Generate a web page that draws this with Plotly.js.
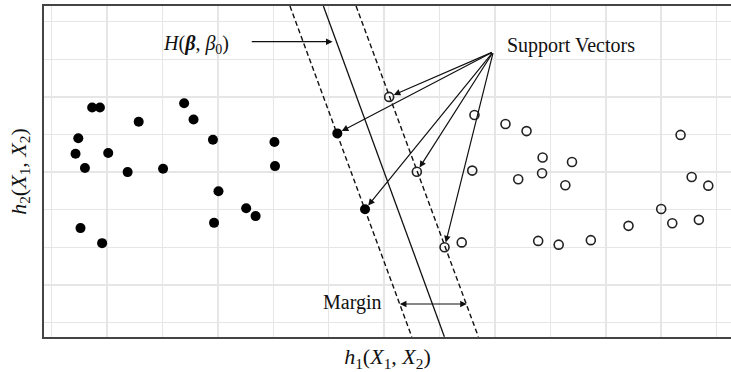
<!DOCTYPE html>
<html>
<head>
<meta charset="utf-8">
<script src="https://cdn.plot.ly/plotly-3.0.1.min.js"></script>
<style>html,body{margin:0;padding:0;background:#fff;}#chart{width:731px;height:372px;}</style>
</head>
<body>
<div id="chart"></div>
<script>
// Class A (filled dots)
const classAX = [0.73, 0.87, 1.57, 2.39, 2.56, 0.48, 0.43, 1.02, 0.60, 1.37, 2.01, 2.91, 4.02, 4.03, 3.01, 3.51, 3.68, 2.93, 0.52, 0.91];
const classAY = [5.72, 5.72, 5.34, 5.83, 5.40, 4.90, 4.49, 4.51, 4.11, 4.00, 4.09, 4.86, 4.80, 4.16, 3.49, 3.04, 2.83, 2.65, 2.51, 2.11];
// Class B (open circles)
const classBX = [7.63, 8.19, 8.57, 7.59, 7.40, 8.86, 9.39, 8.42, 8.85, 9.27, 11.35, 11.55, 11.85, 11.00, 11.20, 11.68, 10.41, 8.78, 9.15, 9.73];
const classBY = [5.52, 5.28, 5.09, 4.04, 2.13, 4.39, 4.27, 3.81, 3.97, 3.65, 4.99, 3.87, 3.64, 3.02, 2.64, 2.73, 2.57, 2.17, 2.07, 2.19];
// Support vectors
const svAX = [5.155, 5.655];
const svAY = [5.03, 3.01];
const svBX = [6.09, 6.59, 7.09];
const svBY = [6.00, 4.01, 2.00];
// Hyperplane and margins (end points)
const hyperX = [4.903, 7.087];
const hyperY = [8.418, -0.378];
const marginLowX = [4.300, 6.498];
const marginHighX = [5.493, 7.700];
const lineY = [8.418, -0.378];
// Annotation anchors
const svLabelPos = [7.971, 7.202];
const hLabel = "<i>H</i>(<b><i>β</i></b>, <i>β</i><sub>0</sub>)";
const xTitle = "<i>h</i><sub>1</sub>(<i>X</i><sub>1</sub>, <i>X</i><sub>2</sub>)";
const yTitle = "<i>h</i><sub>2</sub>(<i>X</i><sub>1</sub>, <i>X</i><sub>2</sub>)";

const serif = "Liberation Serif, Times New Roman, serif";

const traces = [
  {x: hyperX, y: hyperY, mode: 'lines', line: {color: '#111', width: 1.3}, hoverinfo: 'skip'},
  {x: marginLowX, y: lineY, mode: 'lines', line: {color: '#111', width: 1.4, dash: '5px,3px'}, hoverinfo: 'skip'},
  {x: marginHighX, y: lineY, mode: 'lines', line: {color: '#111', width: 1.4, dash: '5px,3px'}, hoverinfo: 'skip'},
  {x: classAX.concat(svAX), y: classAY.concat(svAY), mode: 'markers',
   marker: {symbol: 'circle', size: 10, color: '#000'}},
  {x: classBX.concat(svBX), y: classBY.concat(svBY), mode: 'markers',
   marker: {symbol: 'circle-open', size: 9, color: '#222', line: {width: 1.6}}}
];

const annotations = [];
const svTargets = [[svBX[0], svBY[0]], [svAX[0], svAY[0]], [svBX[1], svBY[1]], [svAX[1], svAY[1]], [svBX[2], svBY[2]]];
svTargets.forEach(function (p) {
  annotations.push({x: p[0], y: p[1], ax: svLabelPos[0], ay: svLabelPos[1], axref: 'x', ayref: 'y', xref: 'x', yref: 'y',
    text: '', showarrow: true, arrowhead: 2, arrowsize: 1.1, arrowwidth: 1.2, arrowcolor: '#111', standoff: 5});
});
annotations.push({x: 5.07, y: 7.468, ax: 3.583, ay: 7.468, axref: 'x', ayref: 'y', xref: 'x', yref: 'y',
  text: '', showarrow: true, arrowhead: 2, arrowsize: 1.1, arrowwidth: 1.2, arrowcolor: '#111'});
annotations.push({x: 7.491, y: 0.492, ax: 6.256, ay: 0.492, axref: 'x', ayref: 'y', xref: 'x', yref: 'y',
  text: '', showarrow: true, arrowhead: 2, startarrowhead: 2, arrowside: 'end+start', arrowsize: 1.1, startarrowsize: 1.1, arrowwidth: 1.2, arrowcolor: '#111'});
annotations.push({x: 8.18, y: 7.38, xref: 'x', yref: 'y', xanchor: 'left', yanchor: 'middle', showarrow: false,
  text: 'Support Vectors', font: {family: serif, size: 20, color: '#111'}});
annotations.push({x: 2.608, y: 7.407, xref: 'x', yref: 'y', xanchor: 'center', yanchor: 'middle', showarrow: false,
  text: hLabel, font: {family: serif, size: 20, color: '#111'}});
annotations.push({x: 5.43, y: 0.532, xref: 'x', yref: 'y', xanchor: 'center', yanchor: 'middle', showarrow: false,
  text: 'Margin', font: {family: serif, size: 20, color: '#111'}});

const layout = {
  width: 731, height: 372,
  margin: {l: 44, r: 0, t: 6, b: 35},
  paper_bgcolor: '#fff', plot_bgcolor: '#fff',
  showlegend: false,
  xaxis: {range: [-0.139, 12.26], dtick: 1, tick0: 0, showgrid: true, gridcolor: '#e6e6e6', gridwidth: 1.5,
    zeroline: false, showticklabels: false, ticks: '', showline: true, mirror: true, linecolor: '#444', linewidth: 1.6,
    title: {text: xTitle, font: {family: serif, size: 22, color: '#111'}, standoff: 12}},
  yaxis: {range: [-0.386, 8.418], dtick: 1, tick0: 0, showgrid: true, gridcolor: '#e6e6e6', gridwidth: 1.5,
    zeroline: false, showticklabels: false, ticks: '', showline: true, mirror: false, linecolor: '#444', linewidth: 1.6,
    title: {text: yTitle, font: {family: serif, size: 22, color: '#111'}, standoff: 10}},
  annotations: annotations
};

Plotly.newPlot('chart', traces, layout, {staticPlot: true, displayModeBar: false});
</script>
</body>
</html>
